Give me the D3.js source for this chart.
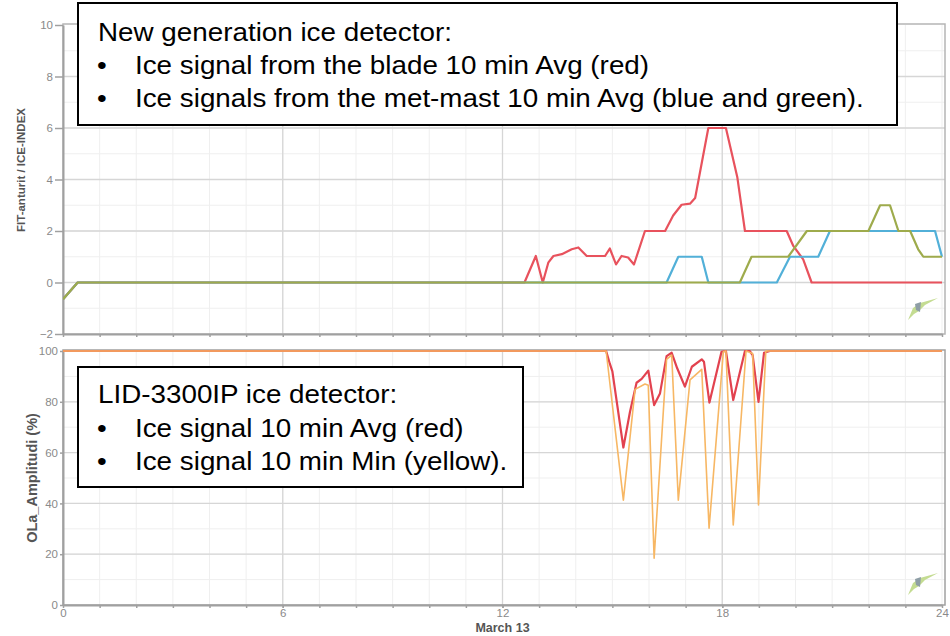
<!DOCTYPE html>
<html><head><meta charset="utf-8">
<script src="https://cdn.jsdelivr.net/npm/d3@7"></script>
<style>
body{margin:0;background:#fff;}
svg{display:block;}
</style></head>
<body>
<svg id="c" width="950" height="636"></svg>
<script>
// ---------- data ----------
const xTicks = [0, 6, 12, 18, 24];
const xLabel = "March 13";
const topTicks = [-2, 0, 2, 4, 6, 8, 10];
const botTicks = [0, 20, 40, 60, 80, 100];
const topTitle = "FIT-anturit / ICE-INDEX";
const botTitle = "OLa_Amplitudi (%)";

// [hour, value]
const bladeAvg = [[0,-0.65],[0.4,0],[12.6,0],[12.91,1.03],[13.1,0],[13.25,0.77],[13.39,1.03],[13.62,1.1],[13.89,1.29],[14.07,1.36],[14.3,1.03],[14.8,1.03],[14.93,1.32],[15.1,0.7],[15.25,1.03],[15.43,0.97],[15.59,0.7],[15.89,2.0],[16.44,2.0],[16.66,2.6],[16.89,3.02],[17.12,3.06],[17.26,3.28],[17.62,6],[18.1,6],[18.41,4.1],[18.62,2],[19.76,2],[19.94,1.42],[20.21,0.9],[20.44,0],[24,0]];
const mastBlue = [[0,-0.65],[0.4,0],[16.48,0],[16.8,1],[17.44,1],[17.62,0],[19.49,0],[19.85,1],[20.62,1],[20.94,2],[23.81,2],[24,1]];
const mastGreen = [[0,-0.65],[0.4,0],[18.48,0],[18.8,1],[19.8,1],[20.31,2],[21.99,2],[22.31,3],[22.58,3],[22.81,2],[23.13,2],[23.35,1.29],[23.49,1],[24,1]];
const lidAvg = [[0,100],[14.83,100],[14.93,95],[15.0,92],[15.3,62],[15.48,76],[15.66,87.5],[15.8,89],[15.98,92.3],[16.14,78.7],[16.3,83.3],[16.48,98],[16.62,99.3],[16.77,93.2],[16.98,86],[17.17,93.8],[17.44,96.7],[17.5,95.8],[17.65,79.7],[17.98,99.7],[18.1,100],[18.3,80.7],[18.62,100],[18.75,100],[18.83,98.4],[18.99,80],[19.14,99.3],[19.3,100],[24,100]];
const lidMin = [[0,100],[14.83,100],[15.3,41.3],[15.62,84.9],[15.89,87],[15.98,86.5],[16.14,18.4],[16.48,96.7],[16.62,98.4],[16.8,41.3],[17.12,88.6],[17.44,92.8],[17.64,30.2],[18.03,99.7],[18.1,100],[18.3,31.5],[18.65,100],[18.83,99],[18.99,39.4],[19.19,100],[24,100]];

const box1Lines = ["New generation ice detector:", "Ice signal from the blade 10 min Avg (red)", "Ice signals from the met-mast 10 min Avg (blue and green)."];
const box2Lines = ["LID-3300IP ice detector:", "Ice signal 10 min Avg (red)", "Ice signal 10 min Min (yellow)."];

// ---------- layout ----------
const svg = d3.select("#c");
const L = 63, R = 945;
const x = d3.scaleLinear().domain([0, 24]).range([63, 942]);
const yTop = d3.scaleLinear().domain([-2, 10]).range([334, 25]);
const yBot = d3.scaleLinear().domain([0, 100]).range([605, 351]);
const tickFont = "'Liberation Sans Narrow', 'Liberation Sans', Arial, sans-serif";

function grid(y, minorVals, majorVals, y0, y1) {
  const g = svg.append("g");
  g.selectAll(".vm").data(d3.range(1, 25)).join("line")
    .attr("x1", d => x(d)).attr("x2", d => x(d)).attr("y1", y0).attr("y2", y1)
    .attr("stroke", "#efefef").attr("stroke-width", 1);
  g.selectAll(".hm").data(minorVals).join("line")
    .attr("x1", L).attr("x2", R).attr("y1", d => y(d)).attr("y2", d => y(d))
    .attr("stroke", "#efefef").attr("stroke-width", 1);
  g.selectAll(".vM").data([6, 12, 18]).join("line")
    .attr("x1", d => x(d)).attr("x2", d => x(d)).attr("y1", y0).attr("y2", y1)
    .attr("stroke", "#d6d6d6").attr("stroke-width", 1.3);
  g.selectAll(".hM").data(majorVals).join("line")
    .attr("x1", L).attr("x2", R).attr("y1", d => y(d)).attr("y2", d => y(d))
    .attr("stroke", "#d6d6d6").attr("stroke-width", 1.3);
}
grid(yTop, d3.range(-1, 10, 1), [0, 2, 4, 6, 8], 25, 334);
grid(yBot, d3.range(10, 100, 10), [20, 40, 60, 80], 351, 605);

// frames
svg.append("rect").attr("x", L).attr("y", 24).attr("width", R - L).attr("height", 310)
  .attr("fill", "none").attr("stroke", "#b5b5b5").attr("stroke-width", 1.5);
svg.append("rect").attr("x", L).attr("y", 350).attr("width", R - L).attr("height", 255)
  .attr("fill", "none").attr("stroke", "#a0a0a0").attr("stroke-width", 1.5);

// axes
function styleAxis(g) {
  g.select(".domain").attr("stroke", "#a0a0a0").attr("stroke-width", 2);
  g.selectAll(".tick line").attr("stroke", "#a0a0a0").attr("stroke-width", 1.5);
  g.selectAll(".tick text").attr("fill", "#8a8a8a").attr("font-family", tickFont).attr("font-size", 11.5);
}
svg.append("g").attr("transform", `translate(${L},0)`)
  .call(d3.axisLeft(yTop).tickValues(topTicks).tickSize(8).tickSizeOuter(0).tickPadding(2))
  .call(styleAxis);
svg.append("g").attr("transform", `translate(${L},0)`)
  .call(d3.axisLeft(yBot).tickValues(botTicks).tickSize(3).tickSizeOuter(0).tickPadding(2))
  .call(styleAxis);
svg.append("g").attr("transform", `translate(0,334)`)
  .call(d3.axisBottom(x).tickValues(d3.range(0, 25)).tickSize(3).tickFormat("").tickSizeOuter(0))
  .call(styleAxis);
svg.append("g").attr("transform", `translate(0,605)`)
  .call(d3.axisBottom(x).tickValues(xTicks).tickSize(3).tickSizeOuter(0).tickPadding(1))
  .call(styleAxis);
svg.append("g").attr("transform", `translate(0,605)`)
  .call(d3.axisBottom(x).tickValues(d3.range(1, 24)).tickSize(3).tickFormat("").tickSizeOuter(0))
  .call(g => g.select(".domain").remove())
  .call(styleAxis);

// titles
svg.append("text").attr("transform", "translate(25,170) rotate(-90)")
  .attr("text-anchor", "middle").attr("font-family", tickFont).attr("font-weight", "bold")
  .attr("font-size", 11.5).attr("fill", "#555").text(topTitle);
svg.append("text").attr("transform", "translate(37,478) rotate(-90)")
  .attr("text-anchor", "middle").attr("font-family", tickFont).attr("font-weight", "bold")
  .attr("font-size", 14.5).attr("fill", "#555").text(botTitle);
svg.append("text").attr("x", x(12)).attr("y", 632)
  .attr("text-anchor", "middle").attr("font-family", tickFont).attr("font-weight", "bold")
  .attr("font-size", 12.5).attr("fill", "#555").text(xLabel);

// lines
svg.append("clipPath").attr("id", "ct").append("rect").attr("x", L).attr("y", 20).attr("width", R - L).attr("height", 316);
svg.append("clipPath").attr("id", "cb").append("rect").attr("x", L).attr("y", 345).attr("width", R - L).attr("height", 262);
const lineT = d3.line().x(d => x(d[0])).y(d => yTop(d[1]));
const lineB = d3.line().x(d => x(d[0])).y(d => yBot(d[1]));
const gT = svg.append("g").attr("clip-path", "url(#ct)");
gT.append("path").attr("d", lineT(bladeAvg)).attr("fill", "none").attr("stroke", "#e8525d").attr("stroke-width", 2.2).attr("stroke-linejoin", "round");
gT.append("path").attr("d", lineT(mastBlue)).attr("fill", "none").attr("stroke", "#52b0d8").attr("stroke-width", 2.2).attr("stroke-linejoin", "round");
gT.append("path").attr("d", lineT(mastGreen)).attr("fill", "none").attr("stroke", "#9eab4c").attr("stroke-width", 2.2).attr("stroke-linejoin", "round");
const gB = svg.append("g").attr("clip-path", "url(#cb)");
gB.append("path").attr("d", lineB(lidAvg)).attr("fill", "none").attr("stroke", "#e2424f").attr("stroke-width", 2.2).attr("stroke-linejoin", "round");
gB.append("path").attr("d", lineB(lidMin)).attr("fill", "none").attr("stroke", "#f7b764").attr("stroke-width", 1.6).attr("stroke-linejoin", "round");

// small watermark logos
function logo(tx, ty) {
  const g = svg.append("g").attr("transform", `translate(${tx},${ty})`);
  g.append("path").attr("d", "M0,22 L5,10 L12,5 L30,0 L17,7 L11,13 L6,16 Z").attr("fill", "#c4dc92");
  g.append("path").attr("d", "M7,6 L13,4 L12,14 L8,12 Z").attr("fill", "#8e9ea6");
}
logo(908, 298);
logo(908, 573);

// text boxes
function box(bx, by, bw, bh, lines, baselines) {
  svg.append("rect").attr("x", bx).attr("y", by).attr("width", bw).attr("height", bh)
    .attr("fill", "#fff").attr("stroke", "#000").attr("stroke-width", 2);
  const f = "'Liberation Sans', Arial, sans-serif";
  lines.forEach((t, i) => {
    if (i === 0) {
      svg.append("text").attr("transform", `translate(98,${baselines[i]}) scale(1.07,1)`)
        .attr("font-family", f).attr("font-size", 26).attr("fill", "#000").text(t);
    } else {
      svg.append("text").attr("transform", `translate(97,${baselines[i]}) scale(1.07,1)`)
        .attr("font-family", f).attr("font-size", 26).attr("fill", "#000").text("\u2022");
      svg.append("text").attr("transform", `translate(135,${baselines[i]}) scale(1.07,1)`)
        .attr("font-family", f).attr("font-size", 26).attr("fill", "#000").text(t);
    }
  });
}
box(78, 3, 819, 122, box1Lines, [41, 74, 107]);
box(78, 367, 445, 120, box2Lines, [403, 437, 470]);
</script>
</body></html>
